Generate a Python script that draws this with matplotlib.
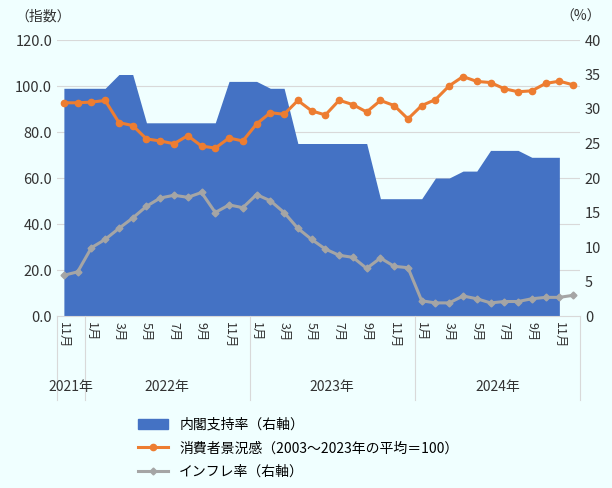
import numpy as np
import matplotlib.pyplot as plt
from matplotlib.patches import Patch
from matplotlib.lines import Line2D
from matplotlib.transforms import blended_transform_factory

plt.rcParams['font.family'] = ['Noto Sans CJK JP', 'DejaVu Sans']

# 2021年11月 ～ 2024年12月
months = [11, 12] + list(range(1, 13)) * 3
years = [2021, 2022, 2023, 2024]

sentiment = [92.7, 92.7, 93.0, 93.7, 84.1, 82.8, 77.0, 76.1, 74.9, 78.4, 73.9, 73.0,
             77.4, 76.1, 83.5, 88.4, 87.7, 93.7, 89.2, 87.4, 93.8, 91.9, 88.7, 93.7,
             91.5, 85.7, 91.5, 94.1, 100.1, 104.1, 102.0, 101.5, 98.8, 97.5, 97.9, 101.1,
             102.1, 100.5]
inflation = [5.9, 6.4, 9.9, 11.1, 12.7, 14.2, 15.9, 17.1, 17.5, 17.2, 17.9, 15.0,
             16.1, 15.7, 17.6, 16.7, 15.0, 12.7, 11.1, 9.7, 8.8, 8.5, 6.9, 8.4,
             7.2, 7.0, 2.2, 1.9, 1.9, 2.9, 2.5, 1.9, 2.1, 2.1, 2.5, 2.7, 2.7, 3.0]
approval = [33, 33, 33, 33, 35, 35, 28, 28, 28, 28, 28, 28,
            34, 34, 34, 33, 33, 25, 25, 25, 25, 25, 25, 17,
            17, 17, 17, 20, 20, 21, 21, 24, 24, 24, 23, 23, 23]

bg = '#F0FFFF'
fig = plt.figure(figsize=(6.12, 4.88), dpi=100, facecolor=bg)
ax = fig.add_axes([57/612, 1-316/488, 523/612, 276/488])
ax2 = ax.twinx()
ax2.set_facecolor(bg)
ax.set_zorder(ax2.get_zorder() + 1)
ax.patch.set_visible(False)

x = np.arange(len(sentiment))
ax2.fill_between(np.arange(len(approval)), approval, 0, color='#4472C4', lw=0)
ax2.plot(x, inflation, color='#A5A5A5', lw=2.2, marker='D', ms=3.5)
ax.plot(x, sentiment, color='#ED7D31', lw=2.2, marker='o', ms=4.5)

ax.set_xlim(-0.5, len(x) - 0.5)
ax.set_ylim(0, 120)
ax2.set_ylim(0, 40)
ax.set_yticks(np.arange(0, 121, 20))
ax.set_yticklabels([f'{v:.1f}' for v in np.arange(0, 121, 20)])
ax2.set_yticks(np.arange(0, 41, 5))
for v in np.arange(20, 121, 20):
    ax2.axhline(v / 3, color='#D9D9D9', lw=0.8, zorder=0)
for a in (ax, ax2):
    for s in a.spines.values():
        s.set_visible(False)
    a.tick_params(length=0, labelsize=10.5, colors='#333333')
ax.spines['bottom'].set_visible(True)
ax.spines['bottom'].set_color('#D9D9D9')
ax.set_xticks([])

tr = blended_transform_factory(ax.transData, fig.transFigure)
for i, m in enumerate(months):
    if i % 2 == 0:
        ax.text(i, 1-322/488, f'{m}月', rotation=270, ha='center', va='top',
                fontsize=9, transform=tr, color='#333333')
for b in [-0.5, 1.5, 13.5, 25.5, len(x) - 0.5]:
    ax.plot([b, b], [1-316/488, 1-400/488], transform=tr, color='#D9D9D9',
            lw=0.8, clip_on=False)
for yr, c in zip(years, [0.5, 7.5, 19.5, 31.5]):
    ax.text(c, 1-387/488, f'{yr}年', ha='center', va='center', fontsize=10,
            transform=tr, color='#333333')

fig.text(15/612, 1-17/488, '（指数）', fontsize=10, va='center', color='#333333')
fig.text(560/612, 1-17/488, '（%）', fontsize=10, va='center', color='#333333')

handles = [Patch(color='#4472C4'),
           Line2D([], [], color='#ED7D31', lw=2.2, marker='o', ms=4.5),
           Line2D([], [], color='#A5A5A5', lw=2.2, marker='D', ms=3.5)]
labels = ['内閣支持率（右軸）', '消費者景況感（2003～2023年の平均＝100）', 'インフレ率（右軸）']
fig.legend(handles, labels, loc='upper left', bbox_to_anchor=(125/612, 1-405/488),
           frameon=False, fontsize=10, handlelength=2.2, labelspacing=0.7)

fig.savefig('out.png', dpi=100, facecolor=bg)
